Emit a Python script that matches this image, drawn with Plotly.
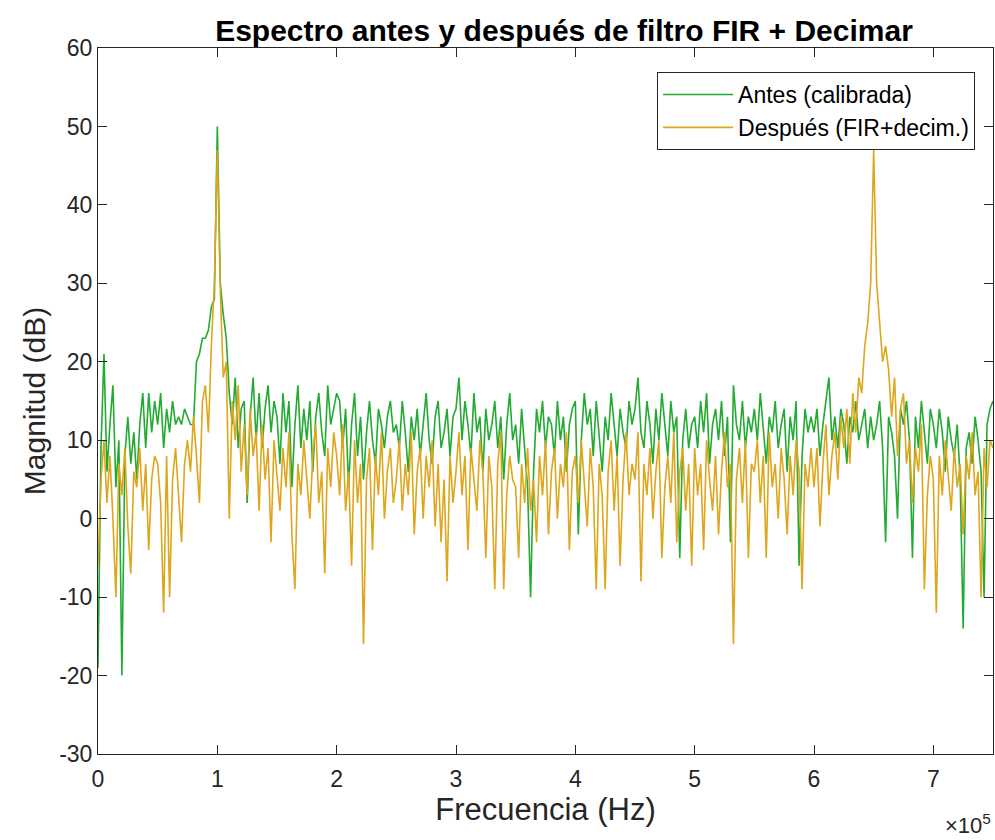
import numpy as np
import plotly.graph_objects as go

# Frequency step between samples (Hz)
step_hz = 2500
n_points = 301
freq = [i * step_hz for i in range(n_points)]

# "Antes (calibrada)" magnitude in dB
antes_db = [
    -19, 9, 21, 6, 12, 17, 4, 10, -20, 8, 13, 7, 11, 5, 12, 16, 9, 16, 11, 15,
    12, 16, 9, 14, 11, 15, 12, 13, 12, 14, 13, 12, 12, 20, 21, 23, 23, 24, 27, 28,
    50, 30, 26, 23, 16, 12, 18, 9, 14, 15, 2, 13, 18, 10, 16, 9, 14, 17, 11, 15,
    13, 7, 16, 11, 15, 4, 12, 17, 9, 14, 10, 15, 6, 13, 16, 11, 8, 17, 12, 14,
    16, 15, 9, 14, 4, 12, 16, 8, 13, 5, 11, 15, 10, 7, 14, 12, 9, 13, 15, 11,
    12, 9, 15, 11, 6, 13, 10, 14, 8, 12, 16, 10, 7, 13, 15, 9, 11, 14, 8, 13,
    14, 18, 10, 15, 12, 8, 16, 11, 13, 6, 14, 10, 12, 15, 9, 13, 5, 12, 16, 10,
    12, 7, 14, 9, 4, -10, 6, 14, 11, 15, 9, 13, 12, 8, 15, 10, 13, 6, 12, 14,
    15, -2, 10, 16, 12, 14, 8, 15, 11, 6, 13, 10, 16, 12, 8, 14, 11, 9, 15, 12,
    14, 18, 11, 9, 15, 12, 7, 14, 10, 16, 12, 8, 15, 11, 13, -5, 10, 14, 9, 12,
    13, 9, 15, 11, 16, 7, 12, 14, 10, 15, 8, 13, -3, 17, 12, 10, 15, 9, 13, 11,
    14, 10, 16, 12, 7, 13, 11, 15, 9, 12, 14, 6, 13, 10, 15, -6, 8, 14, 11, 13,
    11, 14, 8, 12, 15, 18, 10, 13, 9, 14, 12, 7, 13, 11, 15, 10, 12, 14, 9, 13,
    10, 12, 15, 9, -3, 13, 11, 8, 0, 14, 12, 15, 10, -5, 13, 9, 15, 11, 7, 14,
    12, 9, 14, 11, 6, 13, 10, 8, 12, 5, -14, 9, 11, 7, 13, 10, 6, -10, 12, 14,
    15,
]

# "Después (FIR+decim.)" magnitude in dB
despues_db = [
    -6, 5, 10, 2, 8, 0, -10, 7, 3, 9, -1, -7, 6, 4, 9, 1, 7, -4, 5, 8,
    7, 2, -12, 8, -10, 5, 9, 3, -3, 7, 10, 6, 13, 8, 2, 15, 17, 11, 22, 30,
    47, 29, 18, 20, 0, 15, 10, 17, 6, 12, 3, 14, 8, 11, 1, 12, 5, 9, -3, 10,
    6, 1, 9, 4, 11, -2, -9, 7, 3, 10, 5, 0, 8, 12, 2, 6, -7, 9, 4, 11,
    8, 3, 12, 1, 6, -6, 10, 2, 7, -16, 5, 9, -4, 8, 3, 11, 0, 6, 9, 2,
    5, 10, 1, 7, 3, 11, -2, 6, 9, 0, 8, 4, 10, -1, 7, -3, 5, -8, 8, 2,
    6, 11, 3, 8, -4, 9, 5, 1, 10, 6, -5, 8, 4, -9, 7, 11, -9, 3, 8, 5,
    4, -5, 7, 2, 9, 1, 5, -3, 8, 3, 10, -2, 6, 9, 0, 7, 4, 11, -4, 6,
    8, 2, 10, 5, -1, 9, 4, -9, 7, 3, -9, 6, 10, 1, 8, -6, 5, 11, 3, 7,
    5, 11, -8, 7, 3, 9, 0, 6, 10, -5, 4, 8, 2, 11, -3, 6, 9, 1, 7, -6,
    9, 3, 7, -4, 10, 5, 1, 8, -2, 6, 11, 4, 7, -16, 5, 9, 2, 10, -5, 7,
    6, 10, 2, 8, -5, 11, 4, 7, 0, 9, 5, -2, 8, 3, 10, 6, -9, 7, 4, 9,
    4, 9, -1, 7, 12, 3, 8, 11, 5, 13, 9, 14, 7, 16, 11, 18, 16, 22, 25, 30,
    47, 30, 25, 20, 22, 19, 13, 18, 8, 14, 16, 7, 10, 2, 9, 6, 12, -9, 3, 8,
    5, -12, 8, 3, 10, 6, 1, 9, 4, 7, -2, 8, 5, 11, 3, 6, -10, 9, 4, 10,
    9,
]

x_tick_vals = [0, 100000, 200000, 300000, 400000, 500000, 600000, 700000]
x_tick_text = ["0", "1", "2", "3", "4", "5", "6", "7"]
y_tick_vals = [-30, -20, -10, 0, 10, 20, 30, 40, 50, 60]
y_tick_text = ["-30", "-20", "-10", "0", "10", "20", "30", "40", "50", "60"]

FONT = "Liberation Sans, Arial, sans-serif"
AX = "#262626"

fig = go.Figure()
fig.add_trace(go.Scatter(
    x=freq, y=antes_db, mode="lines", name="Antes (calibrada)",
    line=dict(color="rgb(35,170,50)", width=1.6),
))
fig.add_trace(go.Scatter(
    x=freq, y=despues_db, mode="lines", name="Después (FIR+decim.)",
    line=dict(color="rgb(222,166,28)", width=1.6),
))

axis_common = dict(
    showline=True, linecolor=AX, linewidth=1, mirror="allticks",
    ticks="inside", ticklen=9, tickcolor=AX, showgrid=False,
    zeroline=False, tickfont=dict(family=FONT, size=23, color=AX),
)

fig.update_layout(
    width=995, height=840,
    margin=dict(l=98, r=2, t=48, b=86),
    paper_bgcolor="white", plot_bgcolor="white",
    title=dict(
        text="<b>Espectro antes y después de filtro FIR + Decimar</b>",
        x=564 / 995, xref="container", xanchor="center",
        y=1 - 30 / 840, yref="container", yanchor="middle",
        font=dict(family=FONT, size=30, color="black"),
    ),
    xaxis=dict(
        range=[0, 750000], tickvals=x_tick_vals, ticktext=x_tick_text,
        ticklabelstandoff=4,
        title=dict(text="Frecuencia (Hz)", font=dict(family=FONT, size=31, color=AX), standoff=2),
        **axis_common,
    ),
    yaxis=dict(
        range=[-30, 60], tickvals=y_tick_vals, ticktext=y_tick_text,
        title=dict(text="Magnitud (dB)", font=dict(family=FONT, size=30, color=AX), standoff=4),
        **axis_common,
    ),
    legend=dict(
        x=0.98, xanchor="right", y=0.966, yanchor="top",
        bgcolor="white", bordercolor=AX, borderwidth=1,
        font=dict(family=FONT, size=23, color="black"),
        tracegroupgap=0, itemwidth=70,
    ),
    showlegend=True,
)

fig.add_annotation(
    text="×10<sup>5</sup>", xref="paper", yref="paper",
    x=1.0, xanchor="right", y=(754 - 824) / 706, yanchor="middle", showarrow=False,
    font=dict(family=FONT, size=22, color=AX),
)

fig.write_html("out.html")
